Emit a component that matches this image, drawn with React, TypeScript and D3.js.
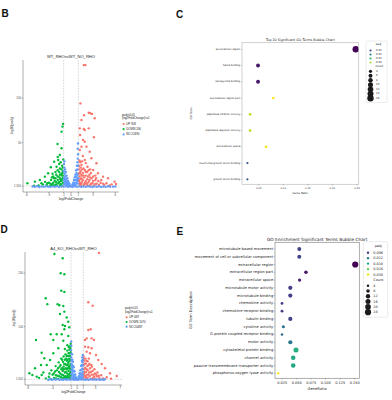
import React from 'react';
import * as d3 from 'd3';

type Pt = [number, number];

// ---------- panel B: volcano WT_RHO vs WT_NO_RHO ----------
const upB: Pt[] = [
  [1.73, 137], [1.95, 137], [1.28, 94], [2.4, 83.6], [2.6, 82.9], [2.85, 82.2], [1.77, 80.7], [3.2, 77.3],
  [1.42, 75.4], [1.19, 66], [1.73, 65.3], [1.86, 64.2], [2.4, 66], [3.1, 56], [1.23, 58.6], [1.64, 53],
  [1.86, 51], [1.42, 45.5], [2.1, 45.5], [2.54, 39.8], [1.19, 41.7], [2.77, 32.4], [1.86, 30.5], [3.45, 26.8],
  [1.42, 24.9], [2.23, 23], [3.0, 19.3], [3.66, 15.6], [4.34, 11.8], [5.01, 10], [5.9, 6.2],
  [1.1, 20], [1.3, 18], [1.6, 16], [2.0, 17], [2.5, 14], [1.15, 12], [1.4, 10], [1.8, 11], [2.2, 9],
  [2.8, 10], [3.3, 8], [1.1, 7], [1.5, 6], [1.9, 5], [2.4, 6], [2.9, 4.5], [3.5, 4], [4.0, 5], [1.2, 3.5],
  [1.7, 2.5], [2.1, 3], [2.6, 2.2], [3.1, 2], [3.8, 2.5], [4.5, 2.8], [5.2, 2], [1.05, 15], [1.25, 28],
  [1.6, 35], [2.0, 27], [2.6, 20], [3.3, 13], [4.1, 8], [1.35, 2], [2.3, 1.8], [4.8, 4.5], [1.5, 13],
  [2.0, 13], [1.02, 9], [1.2, 5], [6.1, 3.5],
  [1.1, 24], [1.3, 22], [1.5, 20], [1.7, 21], [1.9, 19], [2.2, 17], [2.4, 19], [2.7, 16], [3.0, 12],
  [3.4, 10], [3.7, 7], [1.2, 16], [1.4, 14], [1.7, 13], [2.3, 12], [2.6, 11], [1.3, 9], [1.6, 8], [2.0, 7],
  [2.5, 8], [3.0, 7], [1.4, 4], [1.8, 3.5], [2.2, 4.5], [2.7, 3.8], [3.3, 3.5], [4.3, 4], [5.5, 3.2],
  [1.15, 30], [1.5, 29],
];
const downB: Pt[] = [
  [-1.07, 71], [-1.15, 68], [-1.28, 62.3], [-1.82, 48.5], [-1.28, 43.7], [-1.51, 36.1], [-1.74, 30.5],
  [-2.28, 28.6], [-1.96, 23], [-2.73, 22.3], [-3.09, 15.6], [-3.54, 11.8], [-4.22, 8.1], [-4.89, 6.2],
  [-5.9, 4.4], [-1.1, 18], [-1.3, 15], [-1.6, 17], [-2.0, 14], [-2.4, 12], [-1.15, 10], [-1.45, 9],
  [-1.8, 8], [-2.2, 7], [-2.7, 8], [-3.0, 5], [-1.1, 5], [-1.4, 3.5], [-1.7, 4.5], [-2.0, 3], [-2.5, 3.5],
  [-3.3, 2.5], [-3.8, 3], [-1.25, 2], [-1.9, 1.8], [-2.3, 2], [-2.8, 1.8], [-1.05, 13], [-1.2, 24],
  [-1.55, 11], [-2.1, 10], [-1.35, 7], [-4.4, 2], [-5.0, 1.8], [-1.6, 26], [-1.05, 31],
  [-1.1, 22], [-1.3, 20], [-1.5, 21], [-1.8, 19], [-2.1, 17], [-2.5, 15], [-1.2, 13], [-1.5, 14],
  [-1.8, 12], [-2.3, 10], [-2.6, 11], [-1.25, 8], [-1.6, 6], [-2.0, 5.5], [-2.4, 5], [-2.8, 4],
  [-3.2, 4.5], [-1.5, 2], [-2.1, 2.2], [-2.6, 2.5], [-3.5, 6], [-4.0, 4.5], [-1.15, 16], [-1.4, 28],
  [-1.8, 34],
];
const noB: Pt[] = [
  [-0.95, 26], [-0.9, 22], [-0.97, 18], [-0.85, 15], [-0.93, 11], [-0.8, 20], [-0.75, 12], [-0.7, 17],
  [-0.65, 9], [-0.6, 13], [-0.55, 6], [-0.5, 10], [-0.45, 4], [-0.4, 7], [-0.35, 3], [-0.3, 5], [-0.25, 2],
  [-0.2, 3.5], [-0.15, 1.5], [-0.88, 6], [-0.78, 4], [-0.68, 3], [-0.58, 2], [-0.95, 3], [-0.98, 8],
  [-0.82, 9], [-0.72, 7], [-0.62, 5], [-0.9, 29],
  [0.95, 49], [0.9, 43], [0.96, 37], [0.92, 32], [0.88, 28], [0.95, 24], [0.85, 20], [0.8, 24], [0.75, 16],
  [0.7, 19], [0.65, 12], [0.6, 14], [0.55, 8], [0.5, 11], [0.45, 5], [0.4, 8], [0.35, 3], [0.3, 5],
  [0.25, 2], [0.2, 3], [0.15, 1.2], [0.9, 14], [0.97, 10], [0.85, 7], [0.8, 11], [0.72, 5], [0.62, 3],
  [0.52, 2.5], [0.93, 4], [0.75, 8],
  [-5.2, 0.8], [-4.9, 0.5], [-4.6, 1], [-4.3, 0.2], [-4.0, 0.7], [-3.7, 0.4], [-3.4, 1.1], [-3.1, 0.6],
  [-2.8, 0.3], [-2.5, 0.9], [-2.2, 0.5], [-1.9, 1], [-1.6, 0.2], [-1.3, 0.7], [-1.0, 0.4], [-0.7, 1],
  [-0.4, 0.5], [-0.1, 0.8], [0.2, 0.3], [0.5, 0.9], [0.8, 0.5], [1.1, 1], [1.4, 0.3], [1.7, 0.8],
  [2.0, 0.4], [2.3, 1], [2.6, 0.6], [2.9, 0.2], [3.2, 0.9], [3.5, 0.5], [3.8, 1.1], [4.1, 0.3],
  [4.4, 0.7], [4.7, 0.4], [5.0, 1], [5.3, 0.5], [5.7, 0.6], [6.0, 0.9],
];
const xTicksB = [-6, -3, -1, 0, 1, 3, 6];
const yTicksB = [1.301, 50, 100];
const legendB = ['UP 358', 'DOWN 206', 'NO 22490'];

// ---------- panel D: volcano A4_KO_RHO vs WT_RHO ----------
const upD: Pt[] = [
  [3.55, 238], [1.82, 145.5], [2.52, 139], [1.82, 93.6], [2.2, 95], [1.28, 75], [1.55, 78], [2.36, 78],
  [2.74, 75], [1.28, 62.4], [1.82, 61.2], [2.36, 59.4], [1.55, 53], [2.09, 50], [3.07, 46.8], [3.44, 37.5],
  [3.99, 30], [4.53, 22], [5.34, 12.5], [6.43, 7.5],
  [1.05, 44], [1.1, 36], [1.05, 28], [1.15, 20], [1.1, 12], [1.05, 5], [1.35, 40], [1.4, 31], [1.3, 23],
  [1.45, 15], [1.35, 8], [1.4, 2], [1.7, 35], [1.65, 26], [1.75, 18], [1.6, 10], [1.7, 4], [2.0, 30],
  [2.1, 22], [1.95, 14], [2.05, 7], [2.2, 2], [2.4, 25], [2.5, 17], [2.35, 10], [2.55, 4], [2.8, 20],
  [2.9, 12], [2.75, 6], [3.0, 2], [3.3, 14], [3.2, 7], [3.6, 4], [3.9, 9], [4.2, 3], [4.8, 5], [5.5, 2.5],
  [1.1, 40], [1.2, 30], [1.25, 15], [1.2, 8], [1.5, 36], [1.55, 20], [1.5, 5], [1.85, 28], [1.85, 10],
  [2.25, 15], [2.3, 28], [2.65, 10], [2.5, 2], [3.1, 10], [3.5, 8], [1.9, 40],
];
const downD: Pt[] = [
  [-3.7, 236], [-2.35, 228], [-2.68, 200], [-2.08, 198], [-2.57, 167], [-2.08, 165], [-5.11, 153],
  [-4.85, 142], [-2.9, 140], [-3.17, 142], [-2.25, 138.6], [-2.08, 128], [-2.79, 123.6], [-1.7, 117],
  [-1.44, 109], [-2.35, 103], [-1.98, 101], [-2.08, 95], [-1.28, 98.7], [-4.3, 85.6], [-3.33, 85.6],
  [-2.51, 85.6], [-1.44, 82.4], [-6.69, 75], [-3.88, 75], [-2.25, 73.6], [-5.77, 51], [-3.06, 59.4],
  [-3.88, 50], [-5.34, 40.6], [-4.41, 37.5], [-5.88, 28], [-4.95, 28], [-6.85, 21.9], [-7.77, 12.5],
  [-7.28, 9.4], [-6.58, 6.2], [-5.77, 9.4],
  [-1.05, 68], [-1.1, 60], [-1.05, 52], [-1.15, 45], [-1.1, 38], [-1.05, 30], [-1.2, 22], [-1.1, 15],
  [-1.05, 8], [-1.2, 3], [-1.35, 62], [-1.4, 50], [-1.3, 40], [-1.45, 32], [-1.35, 25], [-1.4, 17],
  [-1.3, 10], [-1.45, 4], [-1.6, 55], [-1.7, 45], [-1.65, 36], [-1.55, 28], [-1.7, 20], [-1.6, 12],
  [-1.75, 5], [-1.9, 48], [-2.0, 38], [-1.95, 30], [-1.85, 22], [-2.0, 14], [-1.9, 7], [-2.05, 2],
  [-2.2, 44], [-2.3, 34], [-2.2, 25], [-2.35, 17], [-2.25, 9], [-2.4, 3], [-2.6, 40], [-2.7, 28],
  [-2.55, 20], [-2.75, 12], [-2.6, 5], [-3.0, 33], [-3.1, 22], [-2.95, 15], [-3.2, 8], [-3.05, 2],
  [-3.5, 26], [-3.6, 16], [-3.45, 9], [-3.75, 4], [-4.2, 18], [-4.0, 10], [-4.6, 6], [-4.3, 2],
  [-5.1, 3], [-5.5, 14], [-6.2, 4],
  [-1.1, 64], [-1.2, 50], [-1.25, 35], [-1.15, 27], [-1.2, 12], [-1.3, 5], [-1.5, 45], [-1.55, 38],
  [-1.5, 22], [-1.55, 8], [-1.8, 40], [-1.75, 28], [-1.85, 15], [-1.8, 2], [-2.1, 30], [-2.15, 20],
  [-2.1, 5], [-2.45, 38], [-2.45, 22], [-2.5, 10], [-2.85, 25], [-2.9, 7], [-3.3, 18], [-3.4, 3],
  [-3.8, 12], [-4.5, 12], [-1.05, 20], [-1.25, 57], [-1.6, 65], [-2.0, 58],
];
const noD: Pt[] = [
  [-0.97, 72], [-0.95, 64], [-0.98, 56], [-0.92, 49], [-0.96, 42], [-0.9, 36], [-0.95, 30], [-0.88, 24],
  [-0.93, 18], [-0.97, 11], [-0.9, 5], [-0.82, 48], [-0.78, 38], [-0.8, 28], [-0.75, 20], [-0.82, 12],
  [-0.77, 4], [-0.68, 34], [-0.65, 26], [-0.7, 16], [-0.62, 8], [-0.67, 2], [-0.55, 24], [-0.5, 17],
  [-0.57, 10], [-0.52, 4], [-0.42, 16], [-0.38, 10], [-0.45, 5], [-0.3, 10], [-0.25, 5], [-0.33, 2],
  [-0.18, 4], [-0.12, 1.5],
  [0.92, 47], [0.85, 42], [0.95, 38], [0.88, 33], [0.93, 27], [0.86, 21], [0.95, 15], [0.9, 9], [0.95, 3],
  [0.78, 36], [0.74, 28], [0.8, 20], [0.72, 12], [0.78, 5], [0.65, 26], [0.6, 18], [0.66, 10], [0.58, 3],
  [0.5, 18], [0.45, 12], [0.52, 6], [0.38, 12], [0.32, 7], [0.4, 2.5], [0.25, 6], [0.2, 3], [0.12, 1.2],
  [-4.7, 0.5], [-4.4, 1.5], [-4.1, 0.3], [-3.8, 1.2], [-3.5, 0.6], [-3.2, 1.6], [-2.9, 0.2], [-2.6, 1],
  [-2.3, 0.5], [-2.0, 1.4], [-1.7, 0.3], [-1.4, 1.1], [-1.1, 0.6], [-0.8, 1.4], [-0.5, 0.4], [-0.2, 1],
  [0.1, 0.3], [0.4, 1.2], [0.7, 0.6], [1.0, 1.5], [1.3, 0.4], [1.6, 1], [1.9, 0.2], [2.2, 1.3],
  [2.5, 0.6], [2.8, 1.1], [3.1, 0.3], [3.4, 1.2], [3.7, 0.5], [4.0, 1], [4.3, 0.4], [4.5, 1.3],
];
const xTicksD = [-8, -4, -1, 0, 1, 3, 7];
const yTicksD = [1.301, 100, 200];
const legendD = ['UP 449', 'DOWN 1070', 'NO 20487'];

// ---------- panel C: top 20 GO terms ----------
const termsC = [
  'extracellular region', 'heme binding', 'tetrapyrrole binding', 'extracellular region part',
  'peptidase inhibitor activity', 'peptidase regulator activity', 'extracellular space',
  'insulin-like growth factor binding', 'growth factor binding',
];
const ratioC = [0.2475, 0.0486, 0.0486, 0.0798, 0.0325, 0.0325, 0.065, 0.027, 0.027];
const padjC = [0.0002, 0.003, 0.003, 0.046, 0.041, 0.041, 0.045, 0.013, 0.013];
const countC = [16, 6, 6, 3, 3, 3, 3, 2, 2];
const ratioTicksC = [0.05, 0.1, 0.15, 0.2, 0.25];
const padjLegendC = [0.01, 0.02, 0.03, 0.04];
const countLegendC = [4, 6, 8, 10, 12, 14, 16];

// ---------- panel E: GO enrichment ----------
const termsE = [
  'microtubule-based movement', 'movement of cell or subcellular component', 'extracellular region',
  'extracellular region part', 'extracellular space', 'microtubule motor activity', 'microtubule binding',
  'chemokine activity', 'chemokine receptor binding', 'tubulin binding', 'cytokine activity',
  'G-protein coupled receptor binding', 'motor activity', 'cytoskeletal protein binding', 'channel activity',
  'passive transmembrane transporter activity', 'phosphorus-oxygen lyase activity',
];
const ratioE = [0.0545, 0.0545, 0.151, 0.066, 0.055, 0.039, 0.039, 0.0247, 0.0247, 0.039, 0.027, 0.0247, 0.039, 0.0488, 0.044, 0.044, 0.018];
const padjE = [0.0062, 0.0062, 0.0001, 0.0015, 0.003, 0.0056, 0.0056, 0.0056, 0.0056, 0.006, 0.0115, 0.011, 0.0124, 0.0195, 0.0186, 0.0186, 0.031];
const countE = [10, 10, 24, 8, 7, 11, 11, 5, 5, 11, 6, 4, 11, 16, 13, 13, 4];
const ratioTicksE = [0.025, 0.05, 0.075, 0.1, 0.125, 0.15];
const padjLegendE = [0.006, 0.012, 0.018, 0.024, 0.03];
const countLegendE = [4, 8, 12, 16, 20, 24];

const RED = '#F8766D';
const GREEN = '#00BA38';
const BLUE = '#619CFF';
const GG = 'Liberation Sans, Arial, sans-serif';
const MPL = 'DejaVu Sans, sans-serif';

function Volcano(p: any) {
  const x = d3.scaleLinear().domain(p.xDomain).range([p.left, p.right]);
  const y = d3.scaleLinear().domain(p.yDomain).range([p.bottom, p.top]);
  const cx = (p.left + p.right) / 2;
  const cy = (p.top + p.bottom) / 2;
  const groups: [Pt[], string][] = [[p.down, GREEN], [p.up, RED], [p.no, BLUE]];
  const legendCols = [RED, GREEN, BLUE];
  return (
    <g fontFamily={GG}>
      <text x={cx} y={p.top - 2.5} fontSize={4.1} textAnchor="middle" fill="#222">{p.title}</text>
      {groups.map(([pts, c], gi) =>
        pts.map((d, i) => <circle key={gi + '-' + i} cx={x(d[0])} cy={y(d[1])} r={1.2} fill={c} />)
      )}
      {[-1, 1].map((v) => (
        <line key={v} x1={x(v)} x2={x(v)} y1={p.top} y2={p.bottom} stroke="#9a9a9a" strokeWidth={0.4} strokeDasharray="1.6,1.2" />
      ))}
      <line x1={p.left} x2={p.right} y1={y(1.301)} y2={y(1.301)} stroke="#9a9a9a" strokeWidth={0.4} strokeDasharray="1.6,1.2" />
      <line x1={p.left} x2={p.left} y1={p.top} y2={p.bottom} stroke="#333" strokeWidth={0.4} />
      <line x1={p.left} x2={p.right} y1={p.bottom} y2={p.bottom} stroke="#333" strokeWidth={0.4} />
      {p.xTicks.map((t: number) => (
        <g key={'x' + t}>
          <line x1={x(t)} x2={x(t)} y1={p.bottom} y2={p.bottom + 1.2} stroke="#333" strokeWidth={0.4} />
          <text x={x(t)} y={p.bottom + 4.4} fontSize={2.8} textAnchor="middle" fill="#4d4d4d">{t}</text>
        </g>
      ))}
      {p.yTicks.map((t: number) => (
        <g key={'y' + t}>
          <line x1={p.left - 1.2} x2={p.left} y1={y(t)} y2={y(t)} stroke="#333" strokeWidth={0.4} />
          <text x={p.left - 2} y={y(t)} fontSize={2.8} textAnchor="end" dominantBaseline="central" fill="#4d4d4d">{t}</text>
        </g>
      ))}
      <text x={cx} y={p.bottom + 7.8} fontSize={3.3} textAnchor="middle" fill="#222">log2FoldChange</text>
      <text transform={`translate(${p.left - 10},${cy}) rotate(-90)`} fontSize={3.3} textAnchor="middle" fill="#222">-log10(padj)</text>
      <g fontSize={2.9} fill="#222">
        <text x={p.legendX} y={p.legendY} dominantBaseline="central">padj&lt;0.05</text>
        <text x={p.legendX} y={p.legendY + 3.4} dominantBaseline="central">|log2FoldChange|&gt;=1</text>
        {p.legendLabels.map((l: string, i: number) => (
          <g key={l}>
            <circle cx={p.legendX + 1.6} cy={p.legendY + 9 + i * p.legendStep} r={1.1} fill={legendCols[i]} />
            <text x={p.legendX + 4.2} y={p.legendY + 9 + i * p.legendStep} dominantBaseline="central">{l}</text>
          </g>
        ))}
      </g>
    </g>
  );
}

function Bubble(p: any) {
  const x = d3.scaleLinear().domain(p.xDomain).range([p.left, p.right]);
  const y = d3.scalePoint<string>().domain(p.terms).range([p.top + p.yPad, p.bottom - p.yPad2]);
  const color = d3.scaleSequential(d3.interpolateViridis).domain(p.colorDomain);
  const r = (c: number) => p.rk * Math.sqrt(c);
  const fmt = d3.format(p.xFmt);
  const L = p.legend;
  return (
    <g fontFamily={MPL} fill="#222">
      <text x={(p.left + p.right) / 2} y={p.top - 3.2} fontSize={p.fs.title} textAnchor="middle" dominantBaseline="central">{p.title}</text>
      {p.terms.map((t: string, i: number) => (
        <g key={t}>
          <line x1={p.left - 1.2} x2={p.left} y1={y(t)} y2={y(t)} stroke="#333" strokeWidth={0.3} />
          <text x={p.left - 1.8} y={y(t)} fontSize={p.fs.label} textAnchor="end" dominantBaseline="central">{t}</text>
          <circle cx={x(p.ratio[i])} cy={y(t)} r={r(p.count[i])} fill={color(p.padj[i])} />
        </g>
      ))}
      <rect x={p.left} y={p.top} width={p.right - p.left} height={p.bottom - p.top} fill="none" stroke={p.frame} strokeWidth={0.7} />
      {p.xTicks.map((t: number) => (
        <g key={t}>
          <line x1={x(t)} x2={x(t)} y1={p.bottom} y2={p.bottom + 1.2} stroke="#333" strokeWidth={0.3} />
          <text x={x(t)} y={p.bottom + p.tickDy} fontSize={p.fs.tick} textAnchor="middle" dominantBaseline="central">{fmt(t)}</text>
        </g>
      ))}
      <text x={(p.left + p.right) / 2} y={p.bottom + p.axisDy} fontSize={p.fs.axis} textAnchor="middle" dominantBaseline="central">{p.xLabel}</text>
      <text transform={`translate(${p.yLabelX},${(p.top + p.bottom) / 2}) rotate(-90)`} fontSize={p.fs.axis} textAnchor="middle" dominantBaseline="central">{p.yLabel}</text>
      <rect x={L.x0} y={L.y0} width={L.x1 - L.x0} height={L.y1 - L.y0} rx={1} fill="white" stroke="#d0d0d0" strokeWidth={0.4} />
      <g fontSize={p.fs.legend}>
        <text x={L.titleX} y={L.padjTitleY} textAnchor="middle" dominantBaseline="central">padj</text>
        {p.padjLegend.map((v: number, i: number) => (
          <g key={'p' + v}>
            <circle cx={L.markerX} cy={L.padjY + i * L.padjStep} r={p.legendDot} fill={color(v)} />
            <text x={L.textX} y={L.padjY + i * L.padjStep} dominantBaseline="central">{d3.format(p.legendFmt)(v)}</text>
          </g>
        ))}
        <text x={L.countTitleX} y={L.countTitleY} dominantBaseline="central">Count</text>
        {p.countLegend.map((v: number, i: number) => (
          <g key={'c' + v}>
            <circle cx={L.markerX} cy={L.countY + i * L.countStep} r={r(v)} fill="#1a1a1a" />
            <text x={L.textX} y={L.countY + i * L.countStep} dominantBaseline="central">{v}</text>
          </g>
        ))}
      </g>
    </g>
  );
}

const Letter = ({ x, y, t }: { x: number; y: number; t: string }) => (
  <text x={x} y={y} fontSize={10} fontWeight="bold" fontFamily={GG} fill="#111">{t}</text>
);

export default function App() {
  return (
    <svg width={392} height={400} style={{ position: 'absolute', left: 0, top: 0, background: 'white' }}>
      <rect width={392} height={400} fill="white" />
      <Letter x={1.5} y={17} t="B" />
      <Letter x={176} y={18.3} t="C" />
      <Letter x={0.5} y={233.3} t="D" />
      <Letter x={176.5} y={235} t="E" />

      <Volcano
        title="WT_RHOvsWT_NO_RHO" up={upB} down={downB} no={noB}
        xTicks={xTicksB} yTicks={yTicksB} xDomain={[-6.5, 6.5]} yDomain={[-5.4, 142.7]}
        left={23} right={119} top={60} bottom={192}
        legendX={122} legendY={115} legendStep={5.2} legendLabels={legendB}
      />
      <Volcano
        title="A4_KO_RHOvsWT_RHO" up={upD} down={downD} no={noD}
        xTicks={xTicksD} yTicks={yTicksD} xDomain={[-8.48, 7.29]} yDomain={[-9.4, 239.7]}
        left={25} right={122} top={252} bottom={385}
        legendX={125} legendY={308.3} legendStep={4.7} legendLabels={legendD}
      />

      <Bubble
        title="Top 20 Significant GO Terms Bubble Chart" terms={termsC} ratio={ratioC} padj={padjC} count={countC}
        left={242} right={358.7} top={42.7} bottom={184.3} yPad={6.6} yPad2={5}
        xDomain={[0.016, 0.2535]} xTicks={ratioTicksC} xFmt=".2f" colorDomain={[0, 0.046]} rk={0.8}
        fs={{ title: 3.3, label: 2.5, tick: 2.5, axis: 2.8, legend: 2.6 }}
        tickDy={4.2} axisDy={8.6} xLabel="Gene Ratio" yLabel="GO Term" yLabelX={190.5} frame="#bdbdbd"
        padjLegend={padjLegendC} countLegend={countLegendC} legendFmt=".2f" legendDot={1.1}
        legend={{ x0: 366, x1: 387, y0: 41, y1: 102.5, markerX: 370.5, textX: 376, titleX: 378.5, padjTitleY: 44.5,
          padjY: 50.5, padjStep: 4, countTitleX: 375.5, countTitleY: 66.5, countY: 71.3, countStep: 4.5 }}
      />
      <Bubble
        title="GO Enrichment Significant Terms Bubble Chart" terms={termsE} ratio={ratioE} padj={padjE} count={countE}
        left={275} right={359.3} top={242.3} bottom={378.3} yPad={6.7} yPad2={5}
        xDomain={[0.0126, 0.158]} xTicks={ratioTicksE} xFmt=".3f" colorDomain={[0, 0.031]} rk={0.63}
        fs={{ title: 4.3, label: 3.6, tick: 3.5, axis: 3.7, legend: 3.4 }}
        tickDy={5} axisDy={11} xLabel="GeneRatio" yLabel="GO Term Description" yLabelX={190.7} frame="#8a8a8a"
        padjLegend={padjLegendE} countLegend={countLegendE} legendFmt=".3f" legendDot={1.2}
        legend={{ x0: 363.3, x1: 387.7, y0: 241.7, y1: 317.3, markerX: 368, textX: 373.3, titleX: 378.3, padjTitleY: 246,
          padjY: 252.7, padjStep: 5.45, countTitleX: 373.3, countTitleY: 280.3, countY: 285.7, countStep: 5.3 }}
      />
    </svg>
  );
}
